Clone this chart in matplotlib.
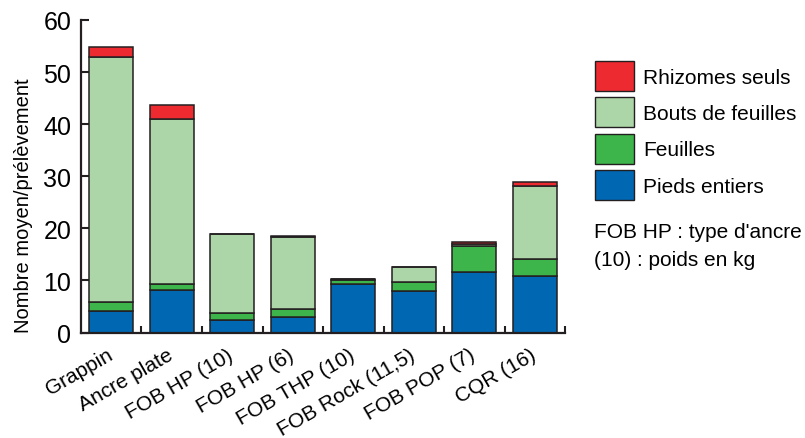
import numpy as np
import matplotlib
matplotlib.use("Agg")
import matplotlib.pyplot as plt
import matplotlib.transforms as mtransforms
from matplotlib.patches import Patch

plt.rcParams['font.family'] = ['Liberation Sans', 'DejaVu Sans']

# Donnees
ancres = ["Grappin", "Ancre plate", "FOB HP (10)", "FOB HP (6)",
          "FOB THP (10)", "FOB Rock (11,5)", "FOB POP (7)", "CQR (16)"]
pieds_entiers = [4.1, 8.2, 2.4, 3.0, 9.4, 7.9, 11.7, 10.9]
feuilles = [1.8, 1.2, 1.4, 1.5, 0.7, 1.8, 5.0, 3.3]
bouts_feuilles = [46.9, 31.6, 15.1, 13.9, 0.2, 2.9, 0.2, 13.9]
rhizomes = [2.1, 2.7, 0.0, 0.2, 0.0, 0.0, 0.5, 0.8]

series = [("Pieds entiers", pieds_entiers, "#0068b3"),
          ("Feuilles", feuilles, "#3db54a"),
          ("Bouts de feuilles", bouts_feuilles, "#acd5a8"),
          ("Rhizomes seuls", rhizomes, "#ed2a30")]

fig = plt.figure(figsize=(8.05, 4.39), dpi=100)
ax = fig.add_axes([0.1006, 0.2403, 0.6013, 0.7119])

x = np.arange(len(ancres))
bottom = np.zeros(len(ancres))
for nom, vals, couleur in series:
    ax.bar(x, vals, width=0.72, bottom=bottom, color=couleur,
           edgecolor="#231f20", linewidth=1.1, label=nom)
    bottom += np.array(vals)

ax.set_xlim(-0.5, len(ancres) - 0.5)
ax.set_ylim(0, 60)
ax.set_yticks(range(0, 61, 10))

ax.spines["top"].set_visible(False)
ax.spines["right"].set_visible(False)
for s in ("left", "bottom"):
    ax.spines[s].set_linewidth(1.6)
    ax.spines[s].set_color("#231f20")

ax.tick_params(axis="y", direction="in", length=6, width=1.5,
               labelsize=18, pad=7, color="#231f20")
ax.set_xticks(x)
ax.set_xticklabels(ancres, rotation=30, ha="right", rotation_mode="anchor",
                   fontsize=15)
ax.tick_params(axis="x", which="major", length=0, pad=9)
ax.set_xticks(np.arange(0.5, len(ancres), 1.0), minor=True)
ax.tick_params(axis="x", which="minor", direction="in", length=5,
               width=1.5, color="#231f20")

# decale un peu les etiquettes vers la gauche
decal = mtransforms.ScaledTranslation(-5 / 100, 0, fig.dpi_scale_trans)
for lab in ax.get_xticklabels():
    lab.set_transform(lab.get_transform() + decal)

ax.set_ylabel("Nombre moyen/prélèvement", fontsize=14.5)
ax.yaxis.set_label_coords(-0.10, 0.41)

# Legende (du haut vers le bas)
handles = [Patch(facecolor=c, edgecolor="#231f20", linewidth=1.0, label=n)
           for n, v, c in series[::-1]]
fig.legend(handles=handles, loc="upper left", bbox_to_anchor=(0.739, 0.859),
           frameon=False, fontsize=15, handlelength=1.9, handleheight=1.85,
           labelspacing=0.3, handletextpad=0.4, borderpad=0, borderaxespad=0)

fig.text(0.738, 0.470, "FOB HP : type d'ancre", fontsize=15, va="center")
fig.text(0.738, 0.406, "(10) : poids en kg", fontsize=15, va="center")

plt.savefig("out.png", dpi=100)
